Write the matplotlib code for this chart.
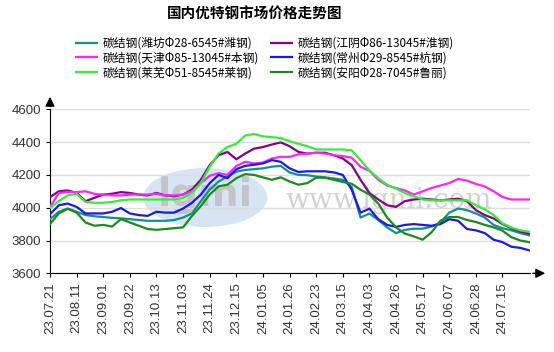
import numpy as np
import matplotlib.pyplot as plt
from matplotlib.patches import Ellipse

# weekly samples, 23.07.21 .. ~24.08.05
tick_labels = ['23.07.21', '23.08.11', '23.09.01', '23.09.22', '23.10.13', '23.11.03',
               '23.11.24', '23.12.15', '24.01.05', '24.01.26', '24.02.23', '24.03.15',
               '24.04.03', '24.04.26', '24.05.17', '24.06.07', '24.06.28', '24.07.15']

weifang = [3930, 3975, 3995, 3975, 3955, 3948, 3943, 3938, 3935, 3930, 3925, 3920, 3920, 3920,
           3925, 3940, 3965, 4040, 4110, 4160, 4190, 4220, 4230, 4235, 4240, 4250, 4255, 4215,
           4200, 4198, 4190, 4185, 4178, 4170, 4126, 3940, 3964, 3925, 3880, 3845, 3865, 3872,
           3872, 3885, 3910, 3970, 3995, 3985, 3965, 3940, 3895, 3875, 3862, 3845, 3832]
jiangyin = [4065, 4100, 4105, 4090, 4040, 4060, 4080, 4085, 4095, 4090, 4080, 4075, 4090, 4075,
            4070, 4080, 4110, 4170, 4260, 4320, 4340, 4295, 4330, 4360, 4370, 4385, 4398, 4375,
            4340, 4330, 4335, 4335, 4320, 4300, 4260, 4170, 4090, 4050, 4015, 4005, 4040, 4050,
            4055, 4050, 4045, 4050, 4055, 4040, 3985, 3955, 3935, 3900, 3875, 3855, 3842]
tianjin = [4005, 4090, 4095, 4095, 4100, 4085, 4080, 4075, 4075, 4080, 4080, 4080, 4085, 4075,
           4075, 4080, 4100, 4150, 4195, 4210, 4200, 4255, 4280, 4270, 4275, 4300, 4310, 4310,
           4325, 4330, 4335, 4330, 4320, 4315, 4305, 4250, 4225, 4170, 4135, 4120, 4105, 4080,
           4100, 4120, 4135, 4150, 4175, 4165, 4145, 4130, 4100, 4065, 4050, 4050, 4050]
changzhou = [3960, 4015, 4025, 4005, 3965, 3965, 3965, 3975, 3998, 3965, 3955, 3950, 3975, 3970,
             3970, 3995, 4030, 4080, 4150, 4200, 4180, 4235, 4255, 4262, 4270, 4290, 4280, 4240,
             4218, 4222, 4222, 4222, 4215, 4200, 4110, 3970, 3994, 3930, 3895, 3883, 3895, 3900,
             3895, 3890, 3900, 3930, 3920, 3870, 3862, 3845, 3805, 3790, 3762, 3755, 3740]
laiwu = [4000, 4040, 4075, 4085, 4035, 4030, 4030, 4035, 4045, 4050, 4050, 4050, 4050, 4050,
         4050, 4060, 4090, 4150, 4250, 4330, 4370, 4390, 4440, 4450, 4435, 4430, 4425, 4405,
         4390, 4375, 4355, 4355, 4355, 4355, 4350, 4290, 4228, 4180, 4140, 4116, 4090, 4070,
         4050, 4045, 4045, 4045, 4045, 4045, 4015, 3990, 3955, 3905, 3880, 3862, 3853]
anyang = [3900, 3965, 3993, 3970, 3910, 3890, 3895, 3885, 3930, 3910, 3890, 3870, 3865, 3870,
          3875, 3880, 3950, 4010, 4080, 4130, 4140, 4180, 4205, 4200, 4185, 4170, 4185, 4160,
          4140, 4150, 4183, 4183, 4170, 4157, 4146, 4110, 4080, 4025, 3940, 3880, 3842, 3825,
          3805, 3850, 3920, 3943, 3943, 3925, 3913, 3895, 3880, 3860, 3820, 3800, 3790]

# legend order column-first so it reads row-wise like the original
series = [
    ('碳结钢(潍坊Φ28-6545#潍钢)', weifang, '#119090'),
    ('碳结钢(天津Φ85-13045#本钢)', tianjin, '#ff22ff'),
    ('碳结钢(莱芜Φ51-8545#莱钢)', laiwu, '#33ee33'),
    ('碳结钢(江阴Φ86-13045#淮钢)', jiangyin, '#880088'),
    ('碳结钢(常州Φ29-8545#杭钢)', changzhou, '#1a1aee'),
    ('碳结钢(安阳Φ28-7045#鲁丽)', anyang, '#1e8a1e'),
]
draw_order = [0, 3, 1, 4, 2, 5]

cjk = ['Noto Sans CJK SC', 'DejaVu Sans']

fig = plt.figure(figsize=(5.54, 3.52), dpi=100)
ax = fig.add_axes([50 / 554, 1 - 273.3 / 352, 480 / 554, 164 / 352])

x = np.arange(len(weifang))

# watermark
ax.add_patch(Ellipse((17.5, 4062), 14, 360, facecolor='#8fb4e0', edgecolor='none',
                     alpha=0.35, zorder=0))
ax.text(17.5, 4075, 'lgmi', fontsize=28, color='#bdbdbd', ha='center', va='center',
        fontweight='bold', alpha=0.8, zorder=0)
ax.text(38.2, 4045, 'www.lgmi.com', fontsize=20, color='#d2d2d2', ha='center', va='center',
        family='DejaVu Serif', zorder=0)

lines = {}
for i in draw_order:
    name, vals, col = series[i]
    lines[i], = ax.plot(x, vals, color=col, lw=1.6, label=name, zorder=3)

ax.set_xlim(0, len(x) - 0.9)
ax.set_ylim(3600, 4600)
ax.set_yticks(range(3600, 4601, 200))
ax.set_xticks(np.arange(0, 3 * len(tick_labels), 3))
ax.set_xticklabels(tick_labels, rotation=90)
ax.grid(axis='y', color='#dddddd', lw=1)
ax.set_axisbelow(True)
for s in ['top', 'right']:
    ax.spines[s].set_visible(False)
ax.tick_params(labelsize=9.5, colors='black', length=3, labelcolor='#333333',
               labelfontfamily='Liberation Sans')

# axis arrows
ax.annotate('', xy=(548 / 554, 1 - 273.3 / 352), xycoords='figure fraction',
            xytext=(530 / 554, 1 - 273.3 / 352),
            arrowprops=dict(arrowstyle='-|>', color='black', lw=1, mutation_scale=14))
ax.annotate('', xy=(50 / 554, 1 - 94 / 352), xycoords='figure fraction',
            xytext=(50 / 554, 1 - 109.3 / 352),
            arrowprops=dict(arrowstyle='-|>', color='black', lw=1, mutation_scale=14))

fig.text(255 / 554, 1 - 14 / 352, '国内优特钢市场价格走势图', ha='center', va='center',
         fontsize=10.5, fontweight='bold', family=cjk)

handles = [lines[i] for i in range(6)]
fig.legend(handles=handles, loc='center', bbox_to_anchor=(265 / 554, 1 - 58 / 352), ncol=2,
           frameon=False, prop={'family': cjk, 'size': 8.5},
           handlelength=1.8, columnspacing=1.0, labelspacing=0.15, handletextpad=0.5)

fig.savefig('out.png', dpi=100)
